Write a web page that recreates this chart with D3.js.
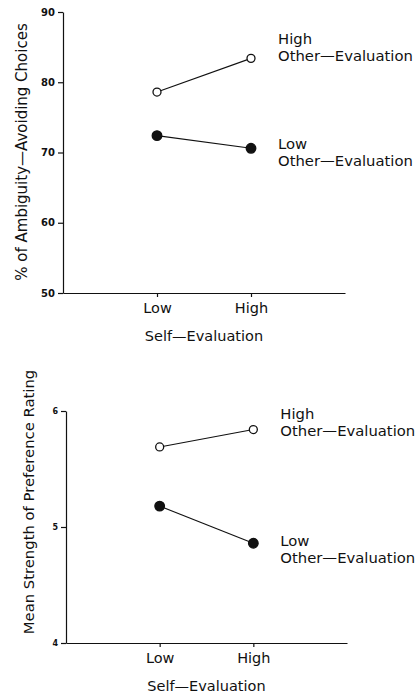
<!DOCTYPE html>
<html>
<head>
<meta charset="utf-8">
<script src="https://cdn.jsdelivr.net/npm/d3@7"></script>
<style>
  body { margin: 0; background: #fff; }
  svg { display: block; }
  svg text { font-family: "DejaVu Sans", sans-serif; }
</style>
</head>
<body>
<svg id="chart" width="415" height="694"></svg>
<script>
// Data
const selfEval = ['Low', 'High'];
const seriesNames = ['High', 'Low'];
const choicesHigh = [78.6, 83.4];
const choicesLow = [72.4, 70.6];
const ratingHigh = [5.69, 5.84];
const ratingLow = [5.18, 4.86];
const choicesTicks = [50, 60, 70, 80, 90];
const ratingTicks = [4, 5, 6];

const svg = d3.select('#chart');
const font = '"DejaVu Sans", sans-serif';

function panel(opts) {
    const g = svg.append('g');
    const x = d3.scaleLinear().domain([0, 3]).range([opts.x0, opts.x1]);
    const y = d3.scaleLinear().domain(opts.domain).range([opts.yBottom, opts.yTop]);

    // y axis
    const yAxis = g.append('g')
        .attr('transform', `translate(${opts.x0},0)`)
        .call(d3.axisLeft(y).tickValues(opts.ticks).tickFormat(d3.format('d'))
            .tickSize(5).tickSizeOuter(0).tickPadding(3));
    yAxis.attr('font-family', font);
    yAxis.selectAll('text')
        .style('font-size', opts.tickFont + 'px')
        .style('font-weight', 'bold')
        .attr('fill', '#111');
    yAxis.selectAll('path, line').attr('stroke', '#111').attr('stroke-width', 1.2);

    // x axis
    const xAxis = g.append('g')
        .attr('transform', `translate(0,${opts.yBottom})`)
        .call(d3.axisBottom(x).tickValues([1, 2]).tickFormat(i => selfEval[i - 1])
            .tickSize(4).tickSizeOuter(0).tickPadding(6));
    xAxis.attr('font-family', font);
    xAxis.selectAll('text').style('font-size', '14.5px').attr('fill', '#111');
    xAxis.selectAll('path, line').attr('stroke', '#111').attr('stroke-width', 1.2);

    g.append('text')
        .attr('x', x(1.5))
        .attr('y', opts.yBottom + opts.xTitleOff)
        .attr('text-anchor', 'middle')
        .style('font-size', '14.5px')
        .attr('fill', '#111')
        .text('Self\u2014Evaluation');

    // y title
    g.append('text')
        .attr('transform', `translate(${opts.titleX},${opts.titleY}) rotate(-90)`)
        .attr('text-anchor', 'middle')
        .style('font-size', opts.titleFont + 'px')
        .attr('fill', '#111')
        .text(opts.title);

    const line = d3.line().x((d, i) => x(i + 1)).y(d => y(d));
    [opts.high, opts.low].forEach((vals, k) => {
        g.append('path')
            .attr('d', line(vals))
            .attr('fill', 'none')
            .attr('stroke', '#111')
            .attr('stroke-width', 1.1);
        g.selectAll(null).data(vals).enter().append('circle')
            .attr('cx', (d, i) => x(i + 1))
            .attr('cy', d => y(d))
            .attr('r', k === 0 ? 4 : 4.8)
            .attr('fill', k === 0 ? '#fff' : '#111')
            .attr('stroke', '#111')
            .attr('stroke-width', 1.3);
        // label
        const lab = g.append('text')
            .attr('x', x(2) + 27)
            .attr('y', y(vals[1]) + opts.labelOff[k])
            .style('font-size', '14.8px')
            .attr('fill', '#111');
        lab.append('tspan').text(seriesNames[k]);
        lab.append('tspan').attr('x', x(2) + 27).attr('dy', 17).text('Other\u2014Evaluation');
    });
}

panel({
    x0: 63, x1: 345, yTop: 12, yBottom: 293,
    domain: [50, 90], ticks: choicesTicks, tickFont: 10,
    high: choicesHigh, low: choicesLow,
    title: '% of Ambiguity\u2014Avoiding Choices', titleX: 27, titleY: 152, titleFont: 15,
    xTitleOff: 48, labelOff: [-14, 1]
});

panel({
    x0: 66, x1: 347, yTop: 411, yBottom: 643,
    domain: [4, 6], ticks: ratingTicks, tickFont: 8,
    high: ratingHigh, low: ratingLow,
    title: 'Mean Strength of Preference Rating', titleX: 34, titleY: 502, titleFont: 14.8,
    xTitleOff: 48, labelOff: [-11, 3]
});
</script>
</body>
</html>
